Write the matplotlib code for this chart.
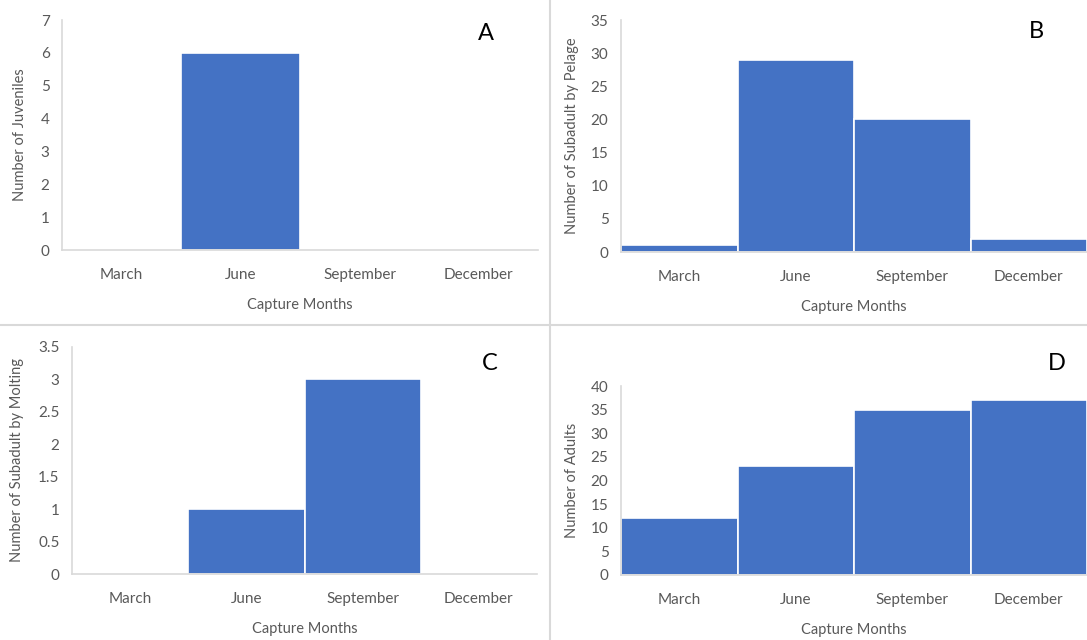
import matplotlib.pyplot as plt
from matplotlib.lines import Line2D

plt.rcParams['font.family'] = ['Lato', 'DejaVu Sans']

# data
months = ['March', 'June', 'September', 'December']
juveniles = [0, 6, 0, 0]
subadult_pelage = [1, 29, 20, 2]
subadult_molting = [0, 1, 3, 0]
adults = [12, 23, 35, 37]

bar_color = '#4472C4'
grid_gray = '#d9d9d9'
text_gray = '#595959'

W, H = 1087, 640
fig = plt.figure(figsize=(W / 100, H / 100), dpi=100)


def px_box(left, right, top, bottom):
    # pixel coords -> figure fraction rect
    return [left / W, 1 - bottom / H, (right - left) / W, (bottom - top) / H]


panels = [
    # (values, ylabel, ymax, ystep, box, letter pos, ylabel x, xlabel y)
    (juveniles, 'Number of Juveniles', 7, 1, (62, 538, 20, 250), (486, 33), 20, 305),
    (subadult_pelage, 'Number of Subadult by Pelage', 35, 5, (621, 1087, 20, 252), (1036, 32), 572, 307),
    (subadult_molting, 'Number of Subadult by Molting', 3.5, 0.5, (72, 537, 347, 574), (490, 364), 17, 629),
    (adults, 'Number of Adults', 40, 5, (621, 1087, 386, 575), (1057, 364), 572, 630),
]
letters = ['A', 'B', 'C', 'D']

for (vals, ylab, ymax, ystep, box, lpos, ylx, xly), letter in zip(panels, letters):
    ax = fig.add_axes(px_box(*box))
    ax.bar(range(len(months)), vals, width=1.0, color=bar_color,
           edgecolor='white', linewidth=1.2)
    ax.set_xlim(-0.5, len(months) - 0.5)
    ax.set_ylim(0, ymax)
    ticks = [i * ystep for i in range(int(round(ymax / ystep)) + 1)]
    ax.set_yticks(ticks)
    ax.set_yticklabels([('%g' % t) for t in ticks])
    ax.set_xticks(range(len(months)))
    ax.set_xticklabels(months)
    for s in ['top', 'right']:
        ax.spines[s].set_visible(False)
    for s in ['left', 'bottom']:
        ax.spines[s].set_color(grid_gray)
        ax.spines[s].set_linewidth(1.2)
    ax.tick_params(axis='both', length=0, labelsize=11, colors=text_gray)
    ax.tick_params(axis='y', pad=9)
    ax.tick_params(axis='x', pad=13)
    ax.set_ylabel(ylab, fontsize=10.5, color=text_gray)
    ax.set_xlabel('Capture Months', fontsize=10.5, color=text_gray)
    ax.yaxis.set_label_coords(ylx / W, 1 - ((box[2] + box[3]) / 2) / H, transform=fig.transFigure)
    ax.xaxis.set_label_coords(((box[0] + box[1]) / 2) / W, 1 - xly / H, transform=fig.transFigure)
    ax.xaxis.label.set_va('center')
    ax.yaxis.label.set_va('center')
    fig.text(lpos[0] / W, 1 - lpos[1] / H, letter, fontsize=17, color='black',
             ha='center', va='center')

# panel separators
fig.add_artist(Line2D([550 / W, 550 / W], [0, 1], transform=fig.transFigure,
                      color=grid_gray, linewidth=1.5))
fig.add_artist(Line2D([0, 1], [1 - 325 / H, 1 - 325 / H], transform=fig.transFigure,
                      color=grid_gray, linewidth=1.5))

fig.savefig('out.png', dpi=100)
